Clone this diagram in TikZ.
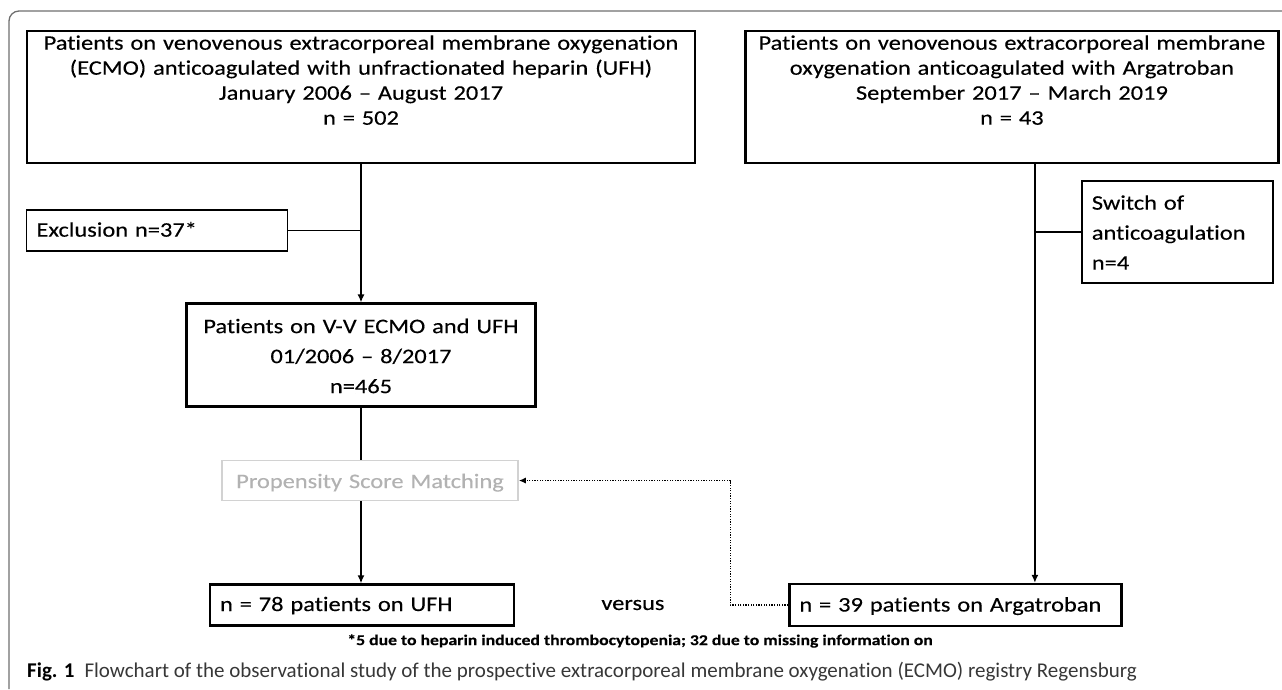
\documentclass[tikz,border=0pt]{standalone}
\usepackage{fontspec}
\setmainfont{Carlito}[FakeStretch=1.18, FakeBold=0.3, Ligatures={NoCommon}]
\newfontfamily\capfont{Carlito}[Ligatures={NoCommon}]
\usetikzlibrary{positioning,arrows,arrows.meta}
\definecolor{framegray}{RGB}{110,110,110}
\definecolor{capgray}{RGB}{55,55,55}
\tikzstyle{bigbox}=[rectangle, draw=black, line width=2.4pt, text centered, anchor=north,
        inner sep=0pt, font=\fontsize{20.7}{25}\selectfont]
\tikzstyle{smallbox}=[rectangle, draw=black, line width=1.5pt, align=left, inner xsep=10pt,
        inner ysep=0pt, font=\fontsize{20.7}{30}\selectfont]
\tikzstyle{psmbox}=[rectangle, draw=gray!35, line width=1.5pt, text=gray!60, text centered,
        inner sep=0pt, text width=296pt, text height=27.5pt, text depth=12.5pt,
        font=\fontsize{20.7}{25}\selectfont]
\tikzstyle{myarrow}=[->, >={Latex[length=8pt, width=7pt]}, line width=1.4pt]
\tikzstyle{dotarrow}=[->, >={Latex[length=7pt, width=6pt]}, line width=1.4pt, dash pattern=on 1.3pt off 1.3pt]
\tikzstyle{line}=[-, line width=1.4pt]

\begin{document}
\begin{tikzpicture}[x=1pt, y=-1pt]
    \useasboundingbox (0,0) rectangle (1282,689);
    \draw[framegray, line width=1.3pt, rounded corners=10pt] (9,689) -- (9,11) -- (1282,11);

    \node (UFHAll) [bigbox, text width=668pt, text height=18.5pt, text depth=113.5pt] at (361,30)
        {
            Patients on venovenous extracorporeal membrane oxygenation\\
            (ECMO) anticoagulated with unfractionated heparin (UFH)\\
            January 2006 -- August 2017\\
            n = 502
        };

    \node (ArgAll) [bigbox, anchor=west, text width=533pt, text height=18.5pt, text depth=113.5pt,
        right=48pt of UFHAll]
        {
            Patients on venovenous extracorporeal membrane\\
            oxygenation anticoagulated with Argatroban\\
            September 2017 -- March 2019\\
            n = 43
        };

    \node (Excl) [smallbox, text width=241pt, text height=26.5pt, text depth=14.5pt,
        below right=45pt and 0pt of UFHAll.south west]
        {Exclusion n=37*};

    \node (UFHCohort) [bigbox, text width=349pt, text height=29.5pt, text depth=73.5pt,
        font=\fontsize{20.7}{30}\selectfont, below=138pt of UFHAll]
        {
            Patients on V-V ECMO and UFH\\
            01/2006 -- 8/2017\\
            n=465
        };

    \node (Switch) [smallbox, text width=171pt, text height=28.5pt, text depth=73.5pt,
        below left=16pt and 6pt of ArgAll.south east]
        {
            Switch of\\
            anticoagulation\\
            n=4
        };

    \node (PSM) [psmbox, below=52pt of UFHCohort, xshift=9pt] {Propensity Score Matching};

    \node (UFHFinal) [smallbox, line width=2.4pt, text width=284pt, text height=26.5pt, text depth=14.5pt,
        below=82pt of PSM, xshift=-8pt]
        {n = 78 patients on UFH};

    \node (ArgFinal) [smallbox, line width=2.4pt, text width=312pt, text height=27.5pt, text depth=14.5pt,
        right=273pt of UFHFinal]
        {n = 39 patients on Argatroban};

    \node (Versus) [inner sep=0pt, font=\fontsize{20.7}{25}\selectfont, right=86pt of UFHFinal] {versus};

    \node (Footnote) [inner sep=0pt, font=\fontsize{15}{18}\selectfont\bfseries] at (640,641)
        {*5 due to heparin induced thrombocytopenia; 32 due to missing information on};

    \node (Caption) [inner sep=0pt, anchor=west, text=capgray, font=\fontsize{21}{24}\capfont] at (27,672)
        {\textbf{\color{black}Fig. 1}\hspace{10pt}Flowchart of the observational study of the prospective extracorporeal membrane oxygenation (ECMO) registry Regensburg};

    \coordinate (ArgDrop) at ([xshift=23pt]ArgAll.south);

    \draw[myarrow] (UFHAll.south) -- (UFHCohort.north);
    \draw[line] (Excl.east) -- (Excl.east -| UFHAll.south);
    \draw[line] (UFHCohort.south) -- (UFHCohort.south |- PSM.north);
    \draw[myarrow] (PSM.south -| UFHCohort.south) -- (UFHFinal.north -| UFHCohort.south);

    \draw[myarrow] (ArgDrop) -- (ArgDrop |- ArgFinal.north);
    \draw[line] (Switch.west) -- (Switch.west -| ArgDrop);

    \draw[dotarrow] (ArgFinal.west) -- ++(-58,0) |- (PSM.east);
\end{tikzpicture}
\end{document}
